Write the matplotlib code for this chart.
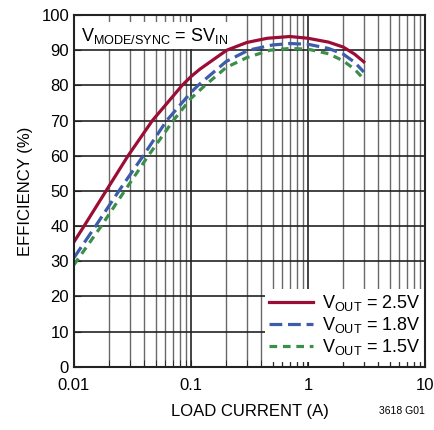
import numpy as np
import matplotlib.pyplot as plt
from matplotlib.ticker import FixedLocator, LogLocator, NullFormatter

plt.rcParams['font.family'] = ['Liberation Sans', 'DejaVu Sans']
plt.rcParams['mathtext.fontset'] = 'custom'
plt.rcParams['mathtext.rm'] = 'Liberation Sans'
plt.rcParams['mathtext.it'] = 'Liberation Sans'

# Efficiency curves
i_25 = [0.01, 0.0122, 0.0188, 0.029, 0.0468, 0.084, 0.1, 0.119, 0.202, 0.3, 0.45, 0.7, 1.0, 1.5, 2.0, 2.5, 3.0]
eff_25 = [35.5, 40, 50, 60, 70, 80, 82.5, 84.6, 90, 92.2, 93.4, 93.9, 93.4, 92.3, 90.9, 88.9, 86.7]

i_18 = [0.01, 0.0153, 0.0242, 0.0391, 0.062, 0.1, 0.115, 0.2, 0.309, 0.5, 0.7, 1.0, 1.5, 2.0, 2.5, 3.0]
eff_18 = [31, 40, 50, 60, 70, 78, 80, 86.8, 90, 91.5, 91.9, 91.7, 90.5, 88.9, 86.6, 83.8]

i_15 = [0.01, 0.0171, 0.0271, 0.0432, 0.0706, 0.1, 0.132, 0.2, 0.3, 0.473, 0.7, 1.0, 1.5, 2.0, 2.5, 3.0]
eff_15 = [29, 40, 50, 60, 70, 76.3, 80, 85.1, 87.9, 90, 90.5, 90.3, 89.0, 87.0, 84.6, 81.8]

labels = ['V$_{\\mathrm{OUT}}$ = 2.5V', 'V$_{\\mathrm{OUT}}$ = 1.8V', 'V$_{\\mathrm{OUT}}$ = 1.5V']
colors = ['#9b0d35', '#3d5daa', '#3c8f4a']

fig = plt.figure(figsize=(4.35, 4.30), dpi=100)
ax = fig.add_axes([0.170, 0.147, 0.807, 0.818])

ax.plot(i_25, eff_25, color=colors[0], lw=2.3, label=labels[0], zorder=5)
ax.plot(i_18, eff_18, color=colors[1], lw=2.3, ls=(0, (4, 1.8)), label=labels[1], zorder=5)
ax.plot(i_15, eff_15, color=colors[2], lw=2.3, ls=(0, (2.4, 1.8)), label=labels[2], zorder=5)

ax.set_xscale('log')
ax.set_xlim(0.01, 10)
ax.set_ylim(0, 100)
ax.xaxis.set_major_locator(FixedLocator([0.01, 0.1, 1, 10]))
ax.set_xticklabels(['0.01', '0.1', '1', '10'])
ax.xaxis.set_minor_locator(LogLocator(base=10, subs=np.arange(2, 10)))
ax.xaxis.set_minor_formatter(NullFormatter())
ax.set_yticks(np.arange(0, 101, 10))

ax.grid(True, which='major', color='#222222', lw=1.2)
ax.grid(True, which='minor', axis='x', color='#6a6a6a', lw=1.0)
ax.tick_params(which='both', direction='in', labelsize=12, length=5, color='#222222')
ax.tick_params(axis='x', pad=8)
for s in ax.spines.values():
    s.set_linewidth(1.5)
    s.set_color('#222222')
    s.set_zorder(7)

ax.set_xlabel('LOAD CURRENT (A)', fontsize=12, labelpad=8)
ax.set_ylabel('EFFICIENCY (%)', fontsize=12, labelpad=6)

ax.text(0.0115, 97, 'V$_{\\mathrm{MODE/SYNC}}$ = SV$_{\\mathrm{IN}}$', fontsize=13, va='top', ha='left',
        bbox=dict(facecolor='white', edgecolor='none', pad=2.5), zorder=4)

leg = ax.legend(loc='lower right', bbox_to_anchor=(1.0, 0.015), fontsize=13, handlelength=2.4,
                frameon=True, framealpha=1, edgecolor='none', facecolor='white', borderpad=0.25,
                labelspacing=0.1, handletextpad=0.5, borderaxespad=0, fancybox=False)
leg.set_zorder(6)

fig.text(0.977, 0.045, '3618 G01', fontsize=7.5, ha='right', va='center')

fig.savefig('out.png', dpi=100)
